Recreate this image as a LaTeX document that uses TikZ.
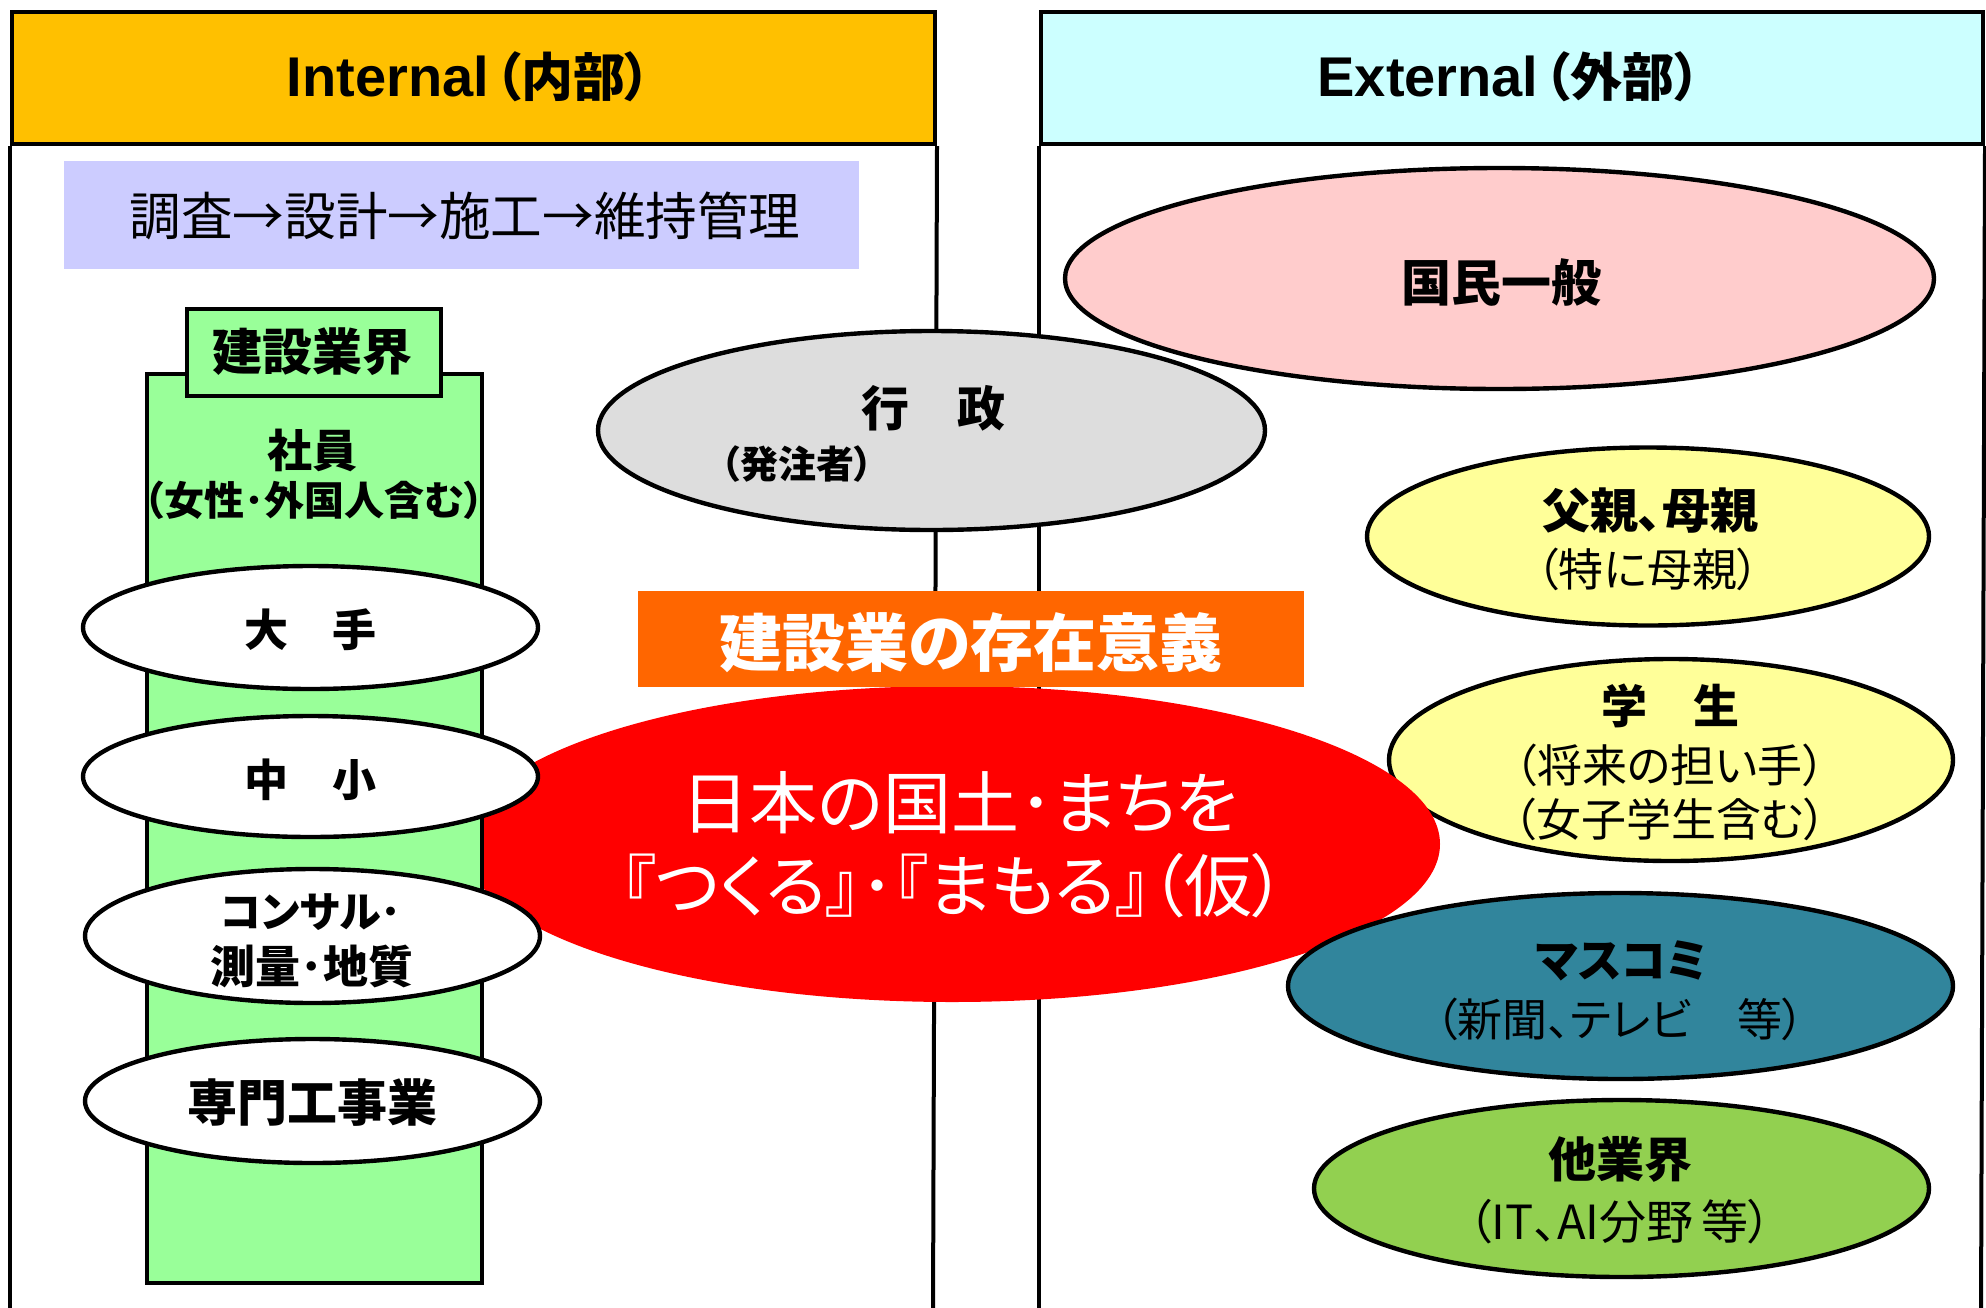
\documentclass[tikz,border=0pt]{standalone}
\usepackage{fontspec}
\setmainfont{Noto Sans CJK JP}[RawFeature={+palt}]
\newfontfamily\lat{Liberation Sans}
\usetikzlibrary{shapes.geometric}
\definecolor{hdrA}{HTML}{FFC000}
\definecolor{hdrB}{HTML}{CCFFFF}
\definecolor{lav}{HTML}{CCCCFF}
\definecolor{grn}{HTML}{99FF99}
\definecolor{gry}{HTML}{DDDDDD}
\definecolor{pnk}{HTML}{FFCCCC}
\definecolor{yel}{HTML}{FFFF99}
\definecolor{tealc}{HTML}{31859C}
\definecolor{lgrn}{HTML}{92D050}
\definecolor{orng}{HTML}{FF6600}
\definecolor{rd}{HTML}{FF0000}
\newcommand{\myfs}[1]{\fontsize{#1}{#1}\selectfont}
\begin{document}
\begin{tikzpicture}[x=0.5pt,y=-0.5pt,
  bord/.style={draw=black,line width=2pt},
  ell/.style={ellipse,draw=black,line width=2.2pt,inner sep=0pt},
  box/.style={rectangle,inner sep=0pt,anchor=north west},
  txt/.style={inner sep=0pt,anchor=center},
  tb/.style={txt,font=\bfseries},
]
\useasboundingbox (0,0) rectangle (1986,1307);
\fill[white] (0,0) rectangle (1986,1307);

% panels
\node[box,bord,fill=hdrA,minimum width=461.5pt,minimum height=66pt] (inthdr) at (10,10) {};
\node[box,bord,fill=hdrB,minimum width=471pt,minimum height=66pt] (exthdr) at (1039,10) {};
\coordinate (intBL) at (10,1312);
\coordinate (intBR) at (933,1312);
\coordinate (extBL) at (1039,1312);
\coordinate (extBR) at (1981,1312);
\draw[bord] (inthdr.south west) -- (intBL);
\draw[bord] (inthdr.south east) -- (intBR);
\draw[bord] (exthdr.south west) -- (extBL);
\draw[bord] (exthdr.south east) -- (extBR);

% process box
\node[box,fill=lav,minimum width=397.5pt,minimum height=54pt] (proc) at (64,161) {};

% ellipses behind
\node[ell,fill=pnk,minimum width=434.5pt,minimum height=110.5pt] (kokumin) at (1499.5,278.5) {};
\node[ell,fill=gry,minimum width=333.5pt,minimum height=99.5pt] (gyosei) at (931.5,430.5) {};
\node[ell,fill=yel,minimum width=282pt,minimum height=101pt] (gakusei) at (1671,760) {};
\node[ellipse,fill=rd,inner sep=0pt,minimum width=488pt,minimum height=158pt] (core) at (952,844) {};

% industry column
\node[box,bord,fill=grn,minimum width=167.5pt,minimum height=454.5pt] (col) at (145,372) {};
\node[box,bord,fill=grn,minimum width=127pt,minimum height=43.5pt] (colhdr) at (185,307) {};
\node[ell,fill=white,minimum width=227.5pt,minimum height=61.5pt] (ote) at (310.5,627.5) {};
\node[ell,fill=white,minimum width=227.5pt,minimum height=60.5pt] (chusho) at (310.5,776.5) {};
\node[ell,fill=white,minimum width=227.5pt,minimum height=67pt] (consul) at (312.5,936) {};
\node[ell,fill=white,minimum width=227.5pt,minimum height=62pt] (senmon) at (312.5,1101) {};

% title box
\node[box,fill=orng,minimum width=333pt,minimum height=48pt] (igi) at (638,591) {};

% external ellipses front
\node[ell,fill=yel,minimum width=281pt,minimum height=89pt] (oya) at (1648,536.5) {};
\node[ell,fill=tealc,minimum width=332.5pt,minimum height=93pt] (masu) at (1620.5,986) {};
\node[ell,fill=lgrn,minimum width=307.5pt,minimum height=88.5pt] (ta) at (1621.5,1188.5) {};

% texts
\node[tb] (intT) at (469,77) {\myfs{28pt}{\lat\bfseries Internal}\hspace{3pt}\myfs{26pt}（内部）};
\node[tb] (extT) at (1509,77) {\myfs{28pt}{\lat\bfseries External}\hspace{3pt}\myfs{26pt}（外部）};
\node[txt,font=\myfs{25.8pt}] (procT) at (465,216) {調査→設計→施工→維持管理};
\node[tb,font=\bfseries\myfs{25pt}] (colhdrT) at (312,352) {建設業界};
\node[tb,font=\bfseries\myfs{22.5pt}] (shainT) at (312,450) {社員};
\node[tb,font=\bfseries\myfs{20pt}] (shainS) at (314,500) {（女性･外国人含む）};
\node[tb,font=\bfseries\myfs{22pt}] (oteT) at (310,630) {大　手};
\node[tb,font=\bfseries\myfs{22pt}] (chushoT) at (310,780) {中　小};
\node[tb,font=\bfseries\myfs{21pt}] (consulT) at (311,912) {コンサル･};
\node[tb,font=\bfseries\myfs{22.5pt}] (consulS) at (312,966) {測量･地質};
\node[tb,font=\bfseries\myfs{25pt}] (senmonT) at (312,1103) {専門工事業};
\node[tb,font=\bfseries\myfs{24pt}] (gyoseiT) at (933,408) {行　政};
\node[tb,font=\bfseries\myfs{19pt}] (gyoseiS) at (797,464) {（発注者）};
\node[tb,font=\bfseries\myfs{31.5pt},text=white] (igiT) at (971,643) {建設業の存在意義};
\node[txt,font=\myfs{34pt},text=white] (coreA) at (960,803) {日本の国土･まちを};
\node[txt,font=\myfs{34pt},text=white] (coreB) at (954,886) {『つくる』･『まもる』（仮）};
\node[tb,font=\bfseries\myfs{25pt}] (kokuminT) at (1501,282) {国民一般};
\node[tb,font=\bfseries\myfs{24pt}] (oyaT) at (1650,511) {父親、母親};
\node[txt,font=\myfs{22.5pt}] (oyaS) at (1648,569) {（特に母親）};
\node[tb,font=\bfseries\myfs{23pt}] (gakuseiT) at (1670,706) {学　生};
\node[txt,font=\myfs{22.5pt}] (gakuseiS) at (1670,765) {（将来の担い手）};
\node[txt,font=\myfs{22.5pt}] (gakuseiU) at (1670,819) {（女子学生含む）};
\node[tb,font=\bfseries\myfs{23pt}] (masuT) at (1622,961) {マスコミ};
\node[txt,font=\myfs{22.5pt}] (masuS) at (1620,1019) {（新聞、テレビ　等）};
\node[tb,font=\bfseries\myfs{24pt}] (taT) at (1620,1159) {他業界};
\node[txt,font=\myfs{23.5pt}] (taS) at (1620,1222) {（IT、AI分野\hspace{4pt}等）};
\end{tikzpicture}
\end{document}
